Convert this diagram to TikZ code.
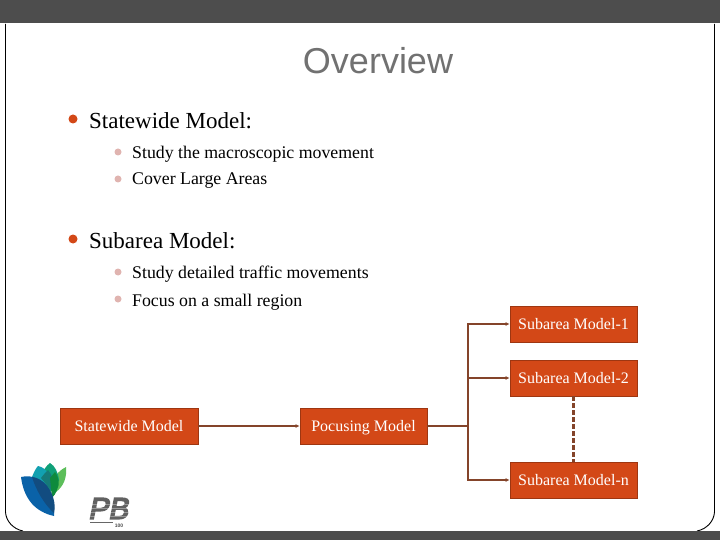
\documentclass[tikz,border=0pt]{standalone}
\usepackage{fontspec}
\setmainfont{Liberation Serif}
\setsansfont{Liberation Sans}
\newfontfamily\pbfont[FakeBold=5,FakeSlant=0.2]{Liberation Sans}
\usetikzlibrary{arrows.meta}
\definecolor{barGray}{HTML}{4D4D4D}
\definecolor{rust}{HTML}{D34817}
\definecolor{rustLine}{HTML}{84442A}
\definecolor{softDot}{HTML}{E0B4B0}
\definecolor{leafBlue}{HTML}{0A62A8}
\definecolor{leafNavy}{HTML}{124C80}
\definecolor{leafTeal}{HTML}{12A0B0}
\definecolor{leafSea}{HTML}{0FA078}
\definecolor{leafLime}{HTML}{5CBE5A}
\definecolor{leafGreen}{HTML}{0E8A3C}
\definecolor{leafDeep}{HTML}{167A78}
\tikzset{
  modelbox/.style={draw=rust!75!black,line width=0.8pt,fill=rust,text=white,minimum width=127pt,minimum height=36pt,inner sep=0pt,text height=14.5pt,text depth=3.5pt,font=\fontsize{16}{18}\selectfont},
  link/.style={draw=rustLine,line width=1.7pt},
  linkarrow/.style={link,-{Latex[length=4pt,width=4pt]}},
  headtext/.style={anchor=west,inner sep=0pt,font=\fontsize{23}{26}\selectfont},
  subtext/.style={anchor=west,inner sep=0pt,font=\fontsize{17.8}{20}\selectfont},
  bigdot/.style={circle,fill=rust,inner sep=0pt,minimum size=9pt},
  smalldot/.style={circle,fill=softDot,inner sep=0pt,minimum size=7pt},
  frameline/.style={draw=black,line width=0.9pt}
}
\begin{document}
\begin{tikzpicture}[x=1pt,y=-1pt]
  \useasboundingbox (0,0) rectangle (720,540);
  % frame and bars
  \fill[white] (0,0) rectangle (720,540);
  \draw[frameline] (5.5,24) -- (5.5,512) .. controls (6,521) and (13,529) .. (23,531);
  \draw[frameline] (714.5,24) -- (714.5,512) .. controls (714,521) and (707,529) .. (697,531);
  \fill[barGray] (0,0) rectangle (720,23.5);
  \fill[barGray] (0,531) rectangle (720,540);

  \node[inner sep=0pt,text=barGray!80!white,font=\sffamily\fontsize{36}{40}\selectfont] (title) at (378,61) {Overview};

  % bullets
  \node[bigdot] (d1) at (73,119) {};
  \node[headtext] (h1) at (89,121) {Statewide Model:};
  \node[smalldot] (d2) at (118,152) {};
  \node[subtext] (s1) at (132,154) {Study the macroscopic movement};
  \node[smalldot] (d3) at (118,179) {};
  \node[subtext] (s2) at (132,181) {Cover Large Areas};
  \node[bigdot] (d4) at (73,239) {};
  \node[headtext] (h2) at (89,241) {Subarea Model:};
  \node[smalldot] (d5) at (118,272) {};
  \node[subtext] (s3) at (132,274) {Study detailed traffic movements};
  \node[smalldot] (d6) at (118,299) {};
  \node[subtext] (s4) at (132,302) {Focus on a small region};

  % model boxes
  \node[modelbox,minimum width=138pt] (state) at (129,426) {Statewide Model};
  \node[modelbox] (focus) at (363.5,426) {Pocusing Model};
  \node[modelbox] (sub1) at (573.5,324) {Subarea Model-1};
  \node[modelbox] (sub2) at (573.5,378) {Subarea Model-2};
  \node[modelbox] (subn) at (573.5,480) {Subarea Model-n};
  \coordinate (split) at (468,426);

  \draw[linkarrow] (state) -- (focus);
  \draw[link] (focus) -- (split);
  \foreach \to in {sub1,sub2,subn}
    \draw[linkarrow] (split) |- (\to);
  \draw[link,line width=2.3pt,dash pattern=on 5pt off 2pt] (sub2) -- (subn);

  % leaf logo
  \fill[leafLime] (52,482) .. controls (56,474) and (60,470) .. (66,467) .. controls (67,477) and (64,486) .. (56,492) -- cycle;
  \fill[leafSea] (40,478) .. controls (43,470) and (47,465) .. (50,463) .. controls (55,466) and (58,472) .. (59,480) -- (50,492) -- cycle;
  \fill[leafTeal] (32,477) .. controls (34,472) and (36,468) .. (38,466) .. controls (43,467) and (47,470) .. (49,476) -- (46,490) -- cycle;
  \fill[leafDeep] (41,478) .. controls (44,474) and (46,472) .. (48,470) .. controls (52,474) and (54,482) .. (54,494) -- cycle;
  \fill[leafGreen] (50,478) .. controls (52,476) and (53,474) .. (55,472) .. controls (59,477) and (60,484) .. (57,490) .. controls (56,493) and (54,496) .. (52,498) -- cycle;
  \fill[leafBlue] (21,477) .. controls (33,474) and (44,480) .. (50,493) .. controls (53,500) and (55,508) .. (54,516) .. controls (36,512) and (24,500) .. (21,477) -- cycle;
  \fill[leafNavy] (32,477) .. controls (42,478) and (50,487) .. (53,497) .. controls (55,503) and (55,508) .. (54,513) .. controls (44,504) and (36,490) .. (32,477) -- cycle;

  % PB mark
  \node[inner sep=0pt,text=black!62,font=\pbfont\fontsize{30}{32}\selectfont] (pb) at (108,508.5) {PB};
  \foreach \y in {504,508,512,516}
    \draw[white,opacity=0.35,line width=1pt] (88,\y) -- (130,\y);
  \draw[black!60,line width=0.6pt] (90,522.5) -- (113,522.5);
  \node[inner sep=0pt,text=black!70,font=\sffamily\bfseries\fontsize{5}{5}\selectfont] (pbyear) at (119,526) {100};
\end{tikzpicture}
\end{document}
